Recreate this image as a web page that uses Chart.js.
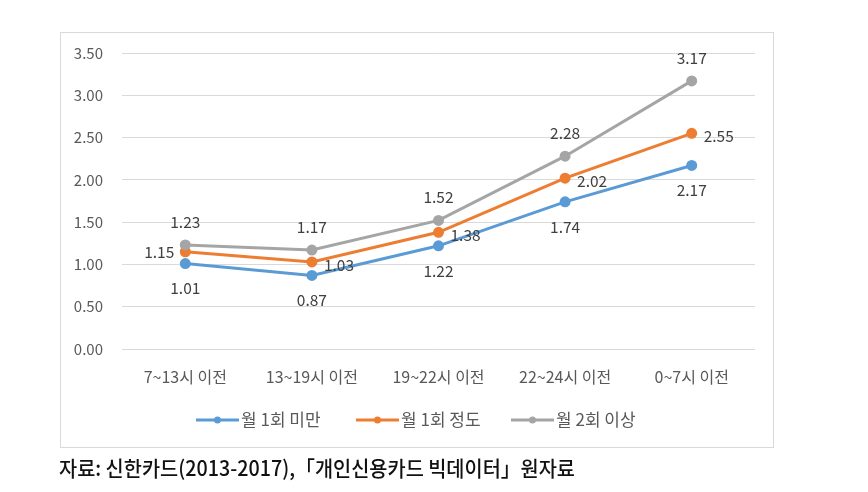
<!DOCTYPE html>
<html><head><meta charset="utf-8">
<script src="https://cdn.jsdelivr.net/npm/chart.js@4.4.1/dist/chart.umd.min.js"></script>
<style>html,body{margin:0;padding:0;background:#fff}canvas{display:block}</style>
</head><body>
<canvas id="c" width="868" height="492"></canvas>
<script>
const categories = ['7~13시 이전', '13~19시 이전', '19~22시 이전', '22~24시 이전', '0~7시 이전'];
const seriesNames = ['월 1회 미만', '월 1회 정도', '월 2회 이상'];
const lessThanOnce = [1.01, 0.87, 1.22, 1.74, 2.17];
const aboutOnce = [1.15, 1.03, 1.38, 2.02, 2.55];
const twiceOrMore = [1.23, 1.17, 1.52, 2.28, 3.17];
const yTicks = [0, 0.5, 1, 1.5, 2, 2.5, 3, 3.5];
const sourceNote = '자료: 신한카드(2013-2017),「개인신용카드 빅데이터」원자료';

const colors = ['#5B9BD5', '#ED7D31', '#A5A5A5'];
const FONT = '"Noto Sans CJK KR", "Malgun Gothic", sans-serif';
// label placement per series
const labelPlace = [['below','below','below','below','below'],
                    ['left','right','right','right','right'],
                    ['above','above','above','above','above']];

const frame = {
  id: 'frame',
  beforeDraw(chart) {
    const ctx = chart.ctx;
    ctx.save();
    ctx.fillStyle = '#fff';
    ctx.fillRect(0, 0, chart.width, chart.height);
    ctx.strokeStyle = '#d9d9d9';
    ctx.lineWidth = 1;
    ctx.strokeRect(60.5, 32.5, 713, 415);
    ctx.restore();
  },
  afterDraw(chart) {
    const ctx = chart.ctx;
    ctx.save();
    // data labels
    ctx.font = '15.5px ' + FONT;
    ctx.fillStyle = '#404040';
    ctx.textBaseline = 'middle';
    chart.data.datasets.forEach((ds, di) => {
      const meta = chart.getDatasetMeta(di);
      meta.data.forEach((pt, i) => {
        const txt = ds.data[i].toFixed(2);
        const p = labelPlace[di][i];
        let x = pt.x, y = pt.y;
        if (p === 'below') { ctx.textAlign = 'center'; y += 25; }
        else if (p === 'above') { ctx.textAlign = 'center'; y -= 23; }
        else if (p === 'left') { ctx.textAlign = 'right'; x -= 11; }
        else { ctx.textAlign = 'left'; x += 12; y += 3; }
        ctx.fillText(txt, x, y);
      });
    });
    // legend
    const lx = [196, 356, 511];
    const ly = 420;
    ctx.font = '17px ' + FONT;
    ctx.textAlign = 'left';
    seriesNames.forEach((n, i) => {
      ctx.strokeStyle = colors[i];
      ctx.lineWidth = 3;
      ctx.beginPath(); ctx.moveTo(lx[i], ly); ctx.lineTo(lx[i] + 43, ly); ctx.stroke();
      ctx.fillStyle = colors[i];
      ctx.beginPath(); ctx.arc(lx[i] + 21.5, ly, 3.5, 0, Math.PI * 2); ctx.fill();
      ctx.fillStyle = '#595959';
      ctx.fillText(n, lx[i] + 45, ly);
    });
    // source note
    ctx.font = '500 21px ' + FONT;
    ctx.fillStyle = '#111';
    const w = ctx.measureText(sourceNote).width;
    const target = 516;
    ctx.translate(59, 468);
    ctx.scale(target / w, 1);
    ctx.textAlign = 'left';
    ctx.fillText(sourceNote, 0, 0);
    ctx.restore();
  }
};

new Chart(document.getElementById('c'), {
  type: 'line',
  data: {
    labels: categories,
    datasets: [lessThanOnce, aboutOnce, twiceOrMore].map((d, i) => ({
      label: seriesNames[i],
      data: d,
      borderColor: colors[i],
      backgroundColor: colors[i],
      pointBackgroundColor: colors[i],
      pointBorderColor: colors[i],
      borderWidth: 3,
      pointRadius: 4,
      tension: 0,
      order: 2 - i
    }))
  },
  options: {
    responsive: false,
    animation: false,
    events: [],
    layout: { padding: { left: 60, right: 113, top: 53, bottom: 0 } },
    plugins: { legend: { display: false }, tooltip: { enabled: false } },
    scales: {
      x: {
        offset: true,
        grid: { display: false, drawTicks: false },
        border: { display: false },
        ticks: { color: '#595959', font: { size: 16, family: FONT }, padding: 18, maxRotation: 0, autoSkip: false },
        afterFit(s) { s.height = 143; }
      },
      y: {
        min: 0, max: 3.5,
        afterBuildTicks(s) { s.ticks = yTicks.map(v => ({ value: v })); },
        grid: { color: '#d9d9d9', lineWidth: 1, drawTicks: false },
        border: { display: false },
        ticks: { color: '#595959', font: { size: 15, family: FONT }, padding: 19, callback: v => Number(v).toFixed(2) },
        afterFit(s) { s.width = 62; }
      }
    }
  },
  plugins: [frame]
});
</script>
</body></html>
